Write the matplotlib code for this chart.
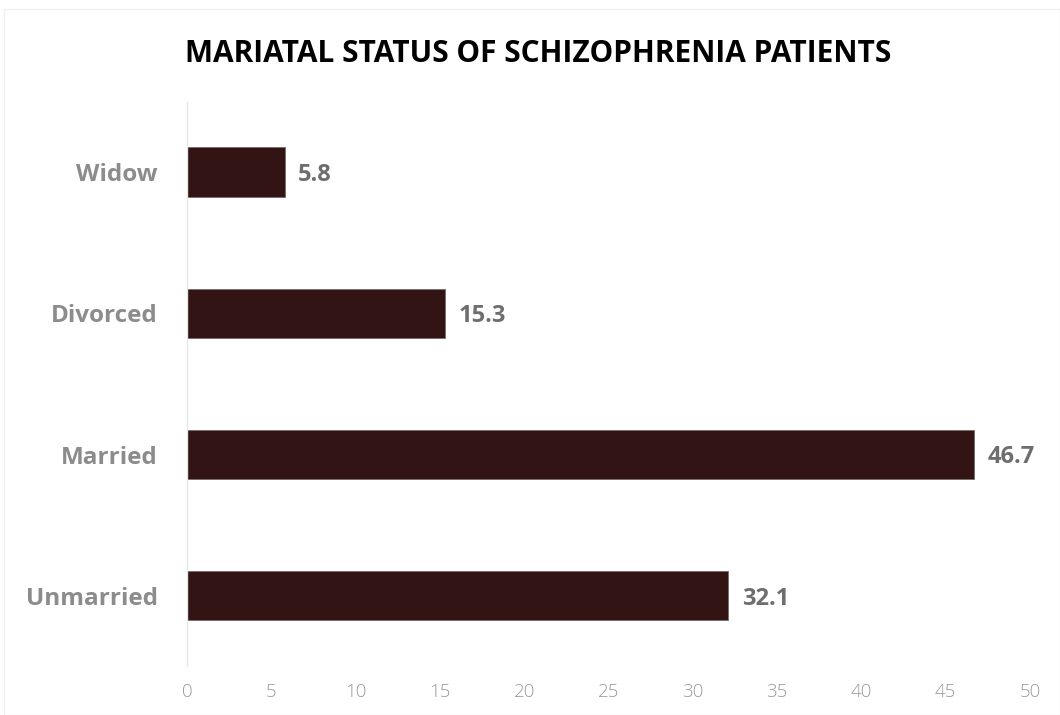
import matplotlib.pyplot as plt
from matplotlib.patches import Rectangle

categories = ['Unmarried', 'Married', 'Divorced', 'Widow']
values = [32.1, 46.7, 15.3, 5.8]
xticks = [0, 5, 10, 15, 20, 25, 30, 35, 40, 45, 50]

plt.rcParams['font.family'] = ['Open Sans', 'DejaVu Sans']

fig = plt.figure(figsize=(10.6, 7.15), dpi=100)
ax = fig.add_axes([0.1764, 0.068, 0.7953, 0.790])

bars = ax.barh(categories, values, height=0.35, color='#331414',
               edgecolor='#7a6a6a', linewidth=0.6)

for b, v in zip(bars, values):
    ax.text(b.get_width() + 0.8, b.get_y() + b.get_height() / 2 - 0.02, f'{v}',
            va='center', ha='left', fontsize=17, fontweight='bold',
            color='#6e6e6e')

ax.set_xlim(0, 50)
ax.set_ylim(-0.5, 3.5)
ax.set_xticks(xticks)
ax.tick_params(axis='x', length=0, labelsize=13.5, labelcolor='#9a9a9a', pad=12)
ax.tick_params(axis='y', length=0, labelsize=17.5, labelcolor='#8c8c8c', pad=21)
for lbl in ax.get_yticklabels():
    lbl.set_fontweight('bold')
for lbl in ax.get_xticklabels():
    lbl.set_fontweight('light')

for s in ['top', 'right', 'bottom']:
    ax.spines[s].set_visible(False)
ax.spines['left'].set_color('#e6e6e6')
ax.spines['left'].set_linewidth(1)

fig.text(0.508, 0.925, 'MARIATAL STATUS OF SCHIZOPHRENIA PATIENTS',
         ha='center', va='center', fontsize=21.5, fontweight='bold',
         color='black')

fig.patches.append(Rectangle((0.004, 0.0), 0.996, 0.987,
                             transform=fig.transFigure, fill=False,
                             edgecolor='#f0f0f0', linewidth=1))

fig.savefig('out.png', dpi=100)
